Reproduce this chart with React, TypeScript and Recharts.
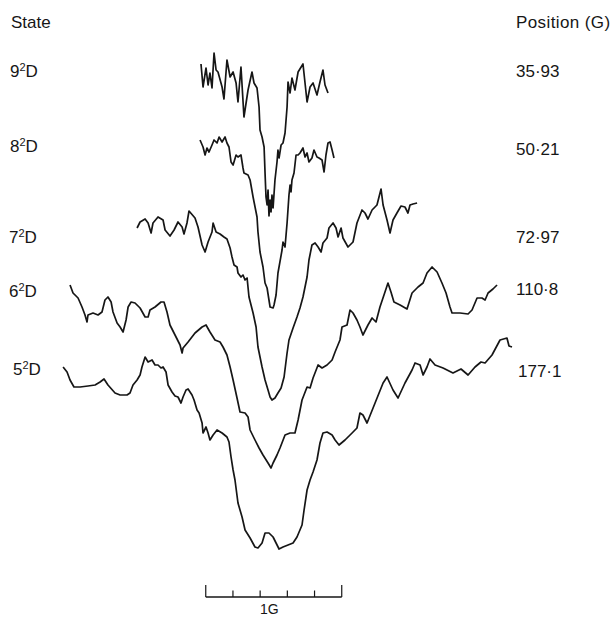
import { Line, LineChart, ReferenceLine, XAxis, YAxis } from "recharts";

// field offset from line centre (G), recorder deflection (arb. units)
const trace9D: [number, number][] = [
  [-0.515, 16], [-0.5, -7], [-0.478, 12], [-0.463, -5], [-0.449, 7], [-0.434, -8],
  [-0.419, 27], [-0.404, 10], [-0.39, 8], [-0.36, -7], [-0.346, -19], [-0.324, 20],
  [-0.301, 3], [-0.279, 8], [-0.257, -3], [-0.243, -22], [-0.221, 13], [-0.199, -37],
  [-0.169, -10], [-0.14, 8], [-0.125, -3], [-0.103, -8], [-0.088, -27], [-0.081, -50],
  [-0.066, -57], [-0.051, -67], [-0.044, -93], [-0.037, -117], [-0.029, -125],
  [-0.022, -110], [-0.015, -136], [-0.007, -120], [0, -132], [0.007, -115],
  [0.015, -128], [0.029, -100], [0.044, -82], [0.051, -70], [0.059, -78], [0.074, -65],
  [0.088, -63], [0.103, -53], [0.118, -27], [0.125, -2], [0.14, -13], [0.154, 2],
  [0.176, -10], [0.199, 8], [0.235, 16], [0.265, -22], [0.287, -7], [0.309, -3],
  [0.338, -15], [0.36, -2], [0.382, 10], [0.397, -5], [0.419, -13],
];

const trace8D: [number, number][] = [
  [-0.522, 10], [-0.5, 3], [-0.485, -5], [-0.471, 2], [-0.456, -2], [-0.434, 5],
  [-0.419, 10], [-0.397, 7], [-0.382, 13], [-0.36, 8], [-0.338, 13], [-0.324, 7],
  [-0.309, 3], [-0.294, -12], [-0.279, -15], [-0.257, -5], [-0.243, -7], [-0.221, -5],
  [-0.206, -18], [-0.199, -23], [-0.169, -25], [-0.154, -30], [-0.132, -47],
  [-0.103, -67], [-0.096, -82], [-0.081, -102], [-0.059, -117], [-0.044, -133],
  [-0.029, -138], [-0.007, -157], [0.015, -158], [0.022, -155], [0.037, -145],
  [0.051, -123], [0.081, -100], [0.088, -92], [0.103, -97], [0.118, -73], [0.132, -45],
  [0.14, -35], [0.147, -42], [0.154, -30], [0.169, -23], [0.184, -5], [0.199, -5],
  [0.213, -3], [0.235, 2], [0.25, -7], [0.265, -3], [0.279, -12], [0.301, -8],
  [0.316, 0], [0.338, -7], [0.353, -8], [0.375, -10], [0.39, -22], [0.404, -5],
  [0.419, 7], [0.434, 8], [0.449, 0], [0.463, -8],
];

const trace7D: [number, number][] = [
  [-0.985, 2], [-0.963, 8], [-0.926, 11], [-0.904, 7], [-0.882, -3], [-0.868, 7],
  [-0.831, 13], [-0.794, 10], [-0.779, 0], [-0.743, -6], [-0.713, 0], [-0.684, 8],
  [-0.654, 3], [-0.64, -4], [-0.618, 7], [-0.603, 19], [-0.559, 12], [-0.537, 3],
  [-0.507, -15], [-0.485, -22], [-0.463, -12], [-0.434, -2], [-0.426, 7], [-0.404, -2],
  [-0.375, -4], [-0.346, -7], [-0.324, -9], [-0.301, -18], [-0.287, -27], [-0.272, -35],
  [-0.25, -37], [-0.243, -43], [-0.221, -47], [-0.206, -45], [-0.191, -50],
  [-0.176, -48], [-0.162, -67], [-0.132, -83], [-0.11, -97], [-0.096, -117],
  [-0.066, -137], [-0.044, -150], [-0.022, -160], [-0.007, -167], [0.007, -170],
  [0.029, -168], [0.051, -163], [0.074, -158], [0.096, -147], [0.118, -123],
  [0.132, -110], [0.162, -98], [0.191, -87], [0.213, -78], [0.235, -67], [0.265, -47],
  [0.279, -30], [0.301, -15], [0.324, -13], [0.346, -17], [0.368, -22], [0.382, -13],
  [0.412, -8], [0.426, 2], [0.456, 7], [0.478, 2], [0.493, -7], [0.515, 2],
  [0.529, -8], [0.566, -17], [0.603, -12], [0.632, 7], [0.669, 20], [0.691, 17],
  [0.713, 11], [0.743, 20], [0.779, 25], [0.809, 41], [0.824, 25], [0.853, 10],
  [0.875, -3], [0.897, 10], [0.926, 17], [0.956, 24], [0.985, 23], [1.007, 17],
  [1.022, 25], [1.044, 26], [1.074, 27],
];

const trace6D: [number, number][] = [
  [-1.478, 15], [-1.456, 7], [-1.419, 2], [-1.39, -7], [-1.368, -15], [-1.353, -22],
  [-1.346, -15], [-1.309, -13], [-1.272, -15], [-1.243, -12], [-1.221, 0], [-1.199, 3],
  [-1.176, -2], [-1.162, -12], [-1.132, -23], [-1.11, -27], [-1.088, -32], [-1.066, -20],
  [-1.051, -7], [-1.029, -2], [-1.0, -3], [-0.963, -8], [-0.926, -17], [-0.904, -17],
  [-0.89, -10], [-0.853, -7], [-0.809, -2], [-0.787, -2], [-0.765, -12], [-0.743, -25],
  [-0.706, -35], [-0.669, -45], [-0.654, -53], [-0.647, -48], [-0.61, -42],
  [-0.559, -33], [-0.507, -27], [-0.478, -25], [-0.449, -32], [-0.412, -40],
  [-0.375, -42], [-0.353, -47], [-0.324, -55], [-0.301, -67], [-0.279, -80],
  [-0.25, -98], [-0.228, -112], [-0.191, -113], [-0.169, -117], [-0.154, -130],
  [-0.118, -140], [-0.088, -148], [-0.059, -155], [-0.022, -163], [0, -168],
  [0.015, -163], [0.044, -155], [0.066, -148], [0.103, -135], [0.14, -133],
  [0.176, -133], [0.199, -120], [0.228, -100], [0.265, -87], [0.287, -88], [0.309, -78],
  [0.346, -65], [0.375, -68], [0.412, -65], [0.449, -60], [0.471, -52], [0.507, -40],
  [0.522, -27], [0.559, -25], [0.581, -10], [0.603, -13], [0.632, -20], [0.654, -27],
  [0.676, -35], [0.713, -25], [0.743, -18], [0.772, -22], [0.801, -7], [0.838, 8],
  [0.86, 17], [0.882, 8], [0.904, -2], [0.949, -5], [1.0, -9], [1.037, 7], [1.081, 13],
  [1.118, 17], [1.147, 27], [1.184, 33], [1.221, 28], [1.257, 17], [1.287, 7],
  [1.316, -7], [1.331, -13], [1.39, -13], [1.449, -14], [1.478, -10], [1.515, 2],
  [1.551, 2], [1.574, 0], [1.596, 7], [1.632, 11], [1.662, 15],
];

const trace5D: [number, number][] = [
  [-1.529, 13], [-1.5, 8], [-1.478, 0], [-1.449, -7], [-1.404, -7], [-1.346, -6],
  [-1.294, -5], [-1.257, -2], [-1.228, 1], [-1.199, -5], [-1.147, -13], [-1.11, -15],
  [-1.059, -15], [-1.037, -13], [-1.015, -5], [-0.985, 0], [-0.963, 5], [-0.949, 13],
  [-0.926, 23], [-0.904, 18], [-0.875, 20], [-0.853, 15], [-0.831, 15], [-0.809, 12],
  [-0.794, 13], [-0.772, 8], [-0.757, -5], [-0.728, -12], [-0.706, -16], [-0.684, -17],
  [-0.662, -23], [-0.647, -17], [-0.625, -10], [-0.61, -9], [-0.581, -15], [-0.566, -20],
  [-0.544, -30], [-0.529, -33], [-0.507, -43], [-0.5, -53], [-0.478, -47], [-0.463, -53],
  [-0.449, -60], [-0.426, -55], [-0.397, -50], [-0.36, -53], [-0.324, -57],
  [-0.309, -62], [-0.294, -77], [-0.279, -90], [-0.265, -100], [-0.243, -123],
  [-0.213, -137], [-0.191, -150], [-0.154, -158], [-0.118, -167], [-0.096, -168],
  [-0.066, -163], [-0.044, -153], [-0.015, -153], [0.015, -157], [0.037, -163],
  [0.059, -169], [0.088, -167], [0.125, -165], [0.162, -163], [0.191, -157],
  [0.228, -145], [0.243, -130], [0.265, -110], [0.287, -100], [0.309, -92], [0.338, -80],
  [0.36, -63], [0.382, -53], [0.412, -52], [0.449, -55], [0.471, -60], [0.5, -65],
  [0.544, -60], [0.596, -53], [0.632, -48], [0.654, -33], [0.676, -35], [0.706, -43],
  [0.765, -23], [0.824, -3], [0.853, 3], [0.897, -10], [0.934, -18], [0.985, -3],
  [1.037, 10], [1.059, 17], [1.096, 15], [1.118, 5], [1.147, 13], [1.169, 21],
  [1.206, 15], [1.265, 12], [1.338, 7], [1.397, 11], [1.449, 5], [1.5, 13], [1.544, 18],
  [1.574, 17], [1.625, 25], [1.684, 40], [1.735, 42], [1.75, 34], [1.772, 33],
];

const states = ["9", "8", "7", "6", "5"];
const positions = ["35·93", "50·21", "72·97", "110·8", "177·1"];
const traces = [trace9D, trace8D, trace7D, trace6D, trace5D];

// layout
const W = 611;
const H = 619;
const TRACE_BASE = [80, 150, 230, 300, 380];
const LABEL_Y = [72, 147, 238, 292, 370];
const LEFT_X = [10, 10, 9, 9, 13];
const RIGHT_Y = [72, 150, 238, 290, 372];
const FIELD_DOMAIN: [number, number] = [-1.993, 2.5];
const BAR_START = -0.48;
const BAR_TICKS = [0, 0.2, 0.4, 0.6, 0.8, 1];
const BAR_Y = -597;

const font = "'Liberation Sans', Arial, sans-serif";
const ink = "#161616";

const series = traces.map((t, i) => t.map(([g, s]) => ({ g, y: s - TRACE_BASE[i] })));

const textStyle = (x: number, y: number): React.CSSProperties => ({
  position: "absolute",
  left: x,
  top: y - 10,
  fontFamily: font,
  fontSize: 17,
  lineHeight: "20px",
  color: ink,
  whiteSpace: "nowrap",
});

export default function App() {
  return (
    <div style={{ position: "absolute", left: 0, top: 0, width: W, height: H, background: "#fff", overflow: "hidden" }}>
      <LineChart width={W} height={H} margin={{ top: 0, right: 0, bottom: 0, left: 0 }}>
        <XAxis type="number" dataKey="g" domain={FIELD_DOMAIN} allowDataOverflow hide />
        <YAxis type="number" domain={[-H, 0]} allowDataOverflow hide />
        {series.map((d, i) => (
          <Line
            key={states[i]}
            data={d}
            dataKey="y"
            type="linear"
            stroke={ink}
            strokeWidth={1.7}
            strokeLinejoin="round"
            dot={false}
            activeDot={false}
            isAnimationActive={false}
          />
        ))}
        <ReferenceLine
          segment={[{ x: BAR_START, y: BAR_Y }, { x: BAR_START + 1, y: BAR_Y }]}
          stroke={ink}
          strokeWidth={1.6}
          ifOverflow="visible"
        />
        {BAR_TICKS.map((t, i) => {
          const end = i === 0 || i === BAR_TICKS.length - 1;
          return (
            <ReferenceLine
              key={t}
              segment={[{ x: BAR_START + t, y: BAR_Y }, { x: BAR_START + t, y: BAR_Y + (end ? 12 : 6.5) }]}
              stroke={ink}
              strokeWidth={1.2}
              ifOverflow="visible"
            />
          );
        })}
      </LineChart>

      <div style={textStyle(11, 23)}>State</div>
      <div style={{ ...textStyle(516, 23), letterSpacing: 0.4 }}>Position (G)</div>
      {states.map((s, i) => (
        <div key={s} style={textStyle(LEFT_X[i], LABEL_Y[i])}>
          {s}
          <span style={{ fontSize: 11, position: "relative", top: -6 }}>2</span>D
        </div>
      ))}
      {positions.map((p, i) => (
        <div key={p} style={textStyle(i === 4 ? 518 : 516, RIGHT_Y[i])}>
          {p}
        </div>
      ))}
      <div style={{ ...textStyle(260, 609), fontSize: 14 }}>1G</div>
    </div>
  );
}
